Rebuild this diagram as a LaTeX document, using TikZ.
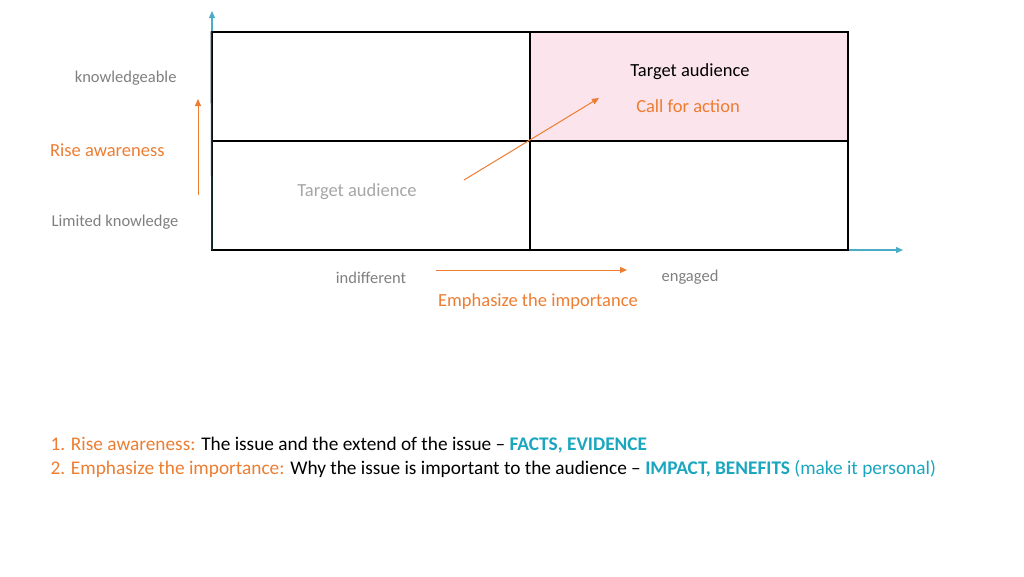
\documentclass[tikz,border=0pt]{standalone}
\usepackage{fontspec}
\setmainfont{Carlito}
\usetikzlibrary{positioning,arrows.meta}
\definecolor{accentorange}{HTML}{ED7D31}
\definecolor{accentteal}{HTML}{4BACC6}
\definecolor{textteal}{HTML}{1AA6BE}
\definecolor{labelgray}{HTML}{7F7F7F}
\definecolor{lightgray}{HTML}{A6A6A6}
\definecolor{cellpink}{HTML}{FCE4EC}

\tikzset{
    cell/.style={draw, line width=1.5pt, minimum width=318pt, minimum height=109pt, inner sep=0pt},
    axislabel/.style={text=labelgray, font=\fontsize{16.5}{19}\selectfont},
    orangetext/.style={text=accentorange, font=\fontsize{18.5}{22}\selectfont},
    maintext/.style={font=\fontsize{18.5}{22}\selectfont},
    notetext/.style={font=\fontsize{19.3}{23}\selectfont},
    axisarrow/.style={accentteal, line width=1.2pt, -{Triangle[length=7pt,width=6pt]}},
    hintarrow/.style={accentorange, line width=1pt, -{Triangle[length=7pt,width=6pt]}}
}

\begin{document}
\begin{tikzpicture}[x=1pt,y=-1pt]
    \useasboundingbox (0,0) rectangle (1024,576);

    % axes
    \coordinate (origin) at (212,250);
    \coordinate (ytip) at (212,11);
    \coordinate (xtip) at (903,250);
    \draw[axisarrow] (origin) -- (ytip);
    \draw[axisarrow] (origin) -- (xtip);

    % the four quadrants
    \node[cell] (topleft) at (371,86.5) {};
    \node[cell, fill=cellpink] (topright) at (689,86.5) {};
    \node[cell] (bottomleft) at (371,195.5) {};
    \node[cell] (bottomright) at (689,195.5) {};
    \draw[line width=1.5pt, black!70!accentteal] (origin) -- (topleft.north west);

    % vertical axis labels
    \node[axislabel, anchor=east] (knowledgeable) at (180,78.5) {knowledgeable};
    \node[orangetext, anchor=east] (riseaware) at (168,150.5) {Rise awareness};
    \node[axislabel, anchor=east] (limited) at (182,222.5) {Limited knowledge};
    \coordinate (risestart) at (198,195);
    \coordinate (riseend) at (198,99);
    \draw[hintarrow] (risestart) -- (riseend);

    % horizontal axis labels
    \node[axislabel] (indifferent) at (371,277.5) {indifferent};
    \node[axislabel] (engaged) at (690,277.5) {engaged};
    \node[orangetext] (emphasize) at (538,301.5) {Emphasize the importance};
    \coordinate (empstart) at (436,270);
    \coordinate (empend) at (627,270);
    \draw[hintarrow] (empstart) -- (empend);

    % quadrant texts
    \node[maintext, text=lightgray] (startaudience) at (357,191.5) {Target audience};
    \node[maintext] (goalaudience) at (690,71.5) {Target audience};
    \node[orangetext] (callaction) at (688,106.5) {Call for action};
    \coordinate (movestart) at (464,180);
    \coordinate (moveend) at (599,98);
    \draw[hintarrow] (movestart) -- (moveend);

    % explanation
    \node[notetext, anchor=west] (stepone) at (47,445.5) {\textcolor{accentorange}{1. Rise awareness:} The issue and the extend of the issue -- \textcolor{textteal}{\textbf{FACTS, EVIDENCE}}};
    \node[notetext, anchor=west] (steptwo) at (47,468.5) {\textcolor{accentorange}{2. Emphasize the importance:} Why the issue is important to the audience -- \textcolor{textteal}{\textbf{IMPACT, BENEFITS} (make it personal)}};
\end{tikzpicture}
\end{document}
